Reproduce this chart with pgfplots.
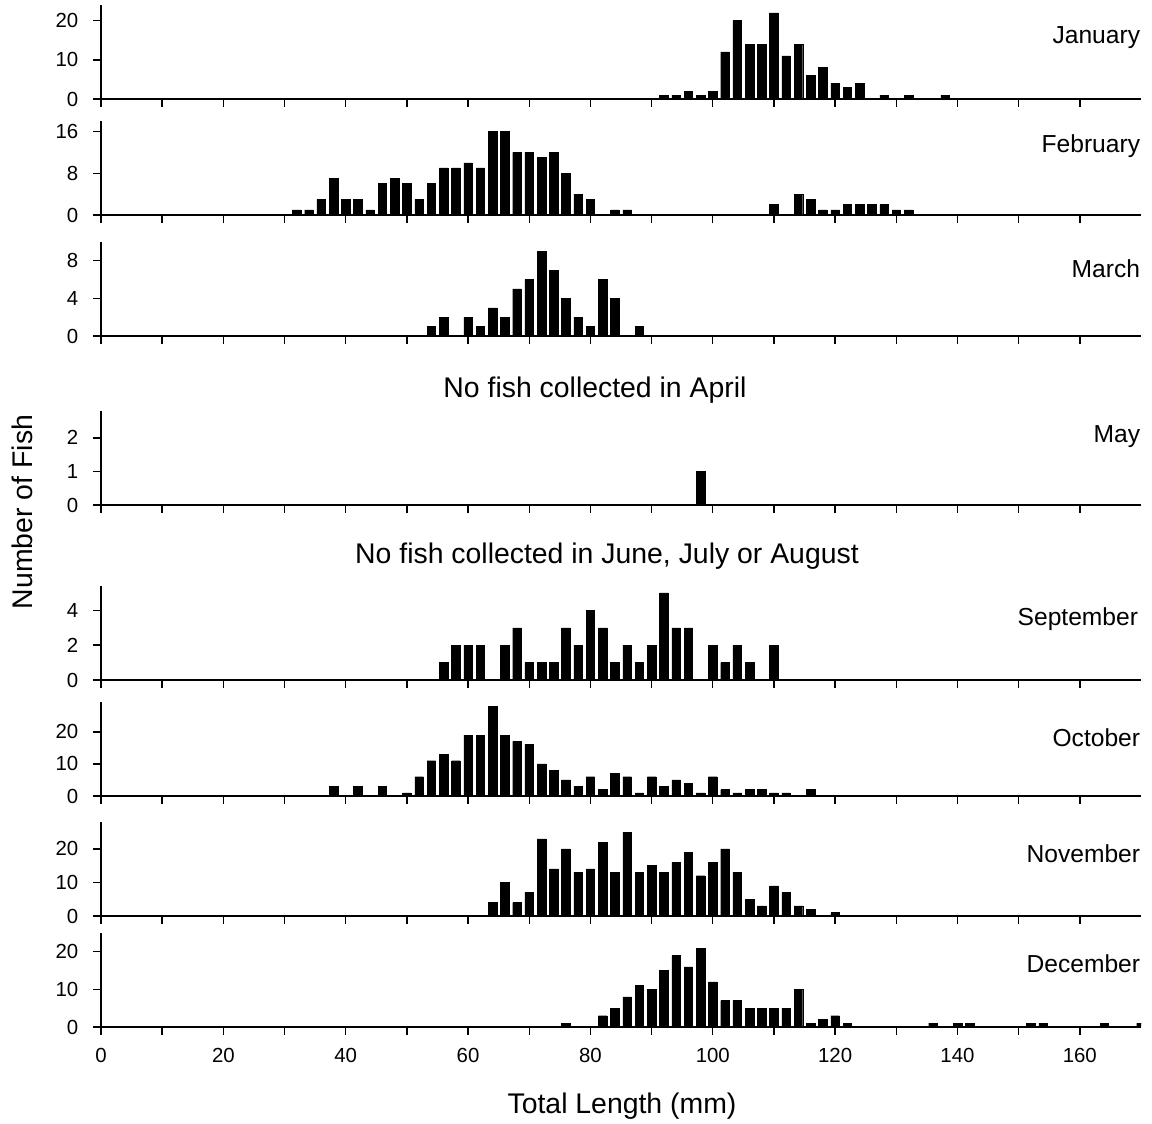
\documentclass[border=0pt]{standalone}
\usepackage{fontspec}
\setmainfont{Liberation Sans}
\usepackage{pgfplots}
\pgfplotsset{compat=1.18}
\pgfplotsset{
  panel/.style={
    scale only axis, width=520pt, height=47pt,
    xmin=0, xmax=170, ymin=0,
    axis x line=bottom, axis y line=left,
    axis line style={-, line width=0.8pt},
    xtick={0,20,...,160}, minor xtick={10,30,...,150},
    xticklabels={},
    tick align=outside, major tick length=3.8pt, minor tick length=3.8pt,
    every tick/.style={black, line width=0.7pt},
    ybar, bar width=1.4,
    ticklabel style={font=\fontsize{10.2}{12}\selectfont},
    yticklabel style={xshift=-4pt},
    xticklabel style={yshift=-3.5pt},
    /pgf/number format/assume math mode=true,
    anchor=south west,
  },
}
\tikzset{
  bars/.style={fill=black, draw=black, line width=0.2pt},
  mon/.style={anchor=east, inner sep=0pt, font=\fontsize{12.3}{14}\selectfont},
  big/.style={font=\fontsize{14.2}{16}\selectfont},
}
\begin{document}
\begin{tikzpicture}
\useasboundingbox (0,0) rectangle (576pt,562pt);
% January
\begin{axis}[panel, at={(50.5pt,512.5pt)}, ymax=24, ytick={0,10,20}]
\addplot[bars] coordinates {(92,1)(94,1)(96,2)(98,1)(100,2)(102,12)(104,20)(106,14)(108,14)(110,22)(112,11)(114,14)(116,6)(118,8)(120,4)(122,3)(124,4)(128,1)(132,1)(138,1)};
\node[mon] at (rel axis cs:0.9995,0.65) {January};
\end{axis}
% February
\begin{axis}[panel, at={(50.5pt,454.5pt)}, ymax=18, ytick={0,8,16}]
\addplot[bars] coordinates {(32,1)(34,1)(36,3)(38,7)(40,3)(42,3)(44,1)(46,6)(48,7)(50,6)(52,3)(54,6)(56,9)(58,9)(60,10)(62,9)(64,16)(66,16)(68,12)(70,12)(72,11)(74,12)(76,8)(78,4)(80,3)(84,1)(86,1)(110,2)(114,4)(116,3)(118,1)(120,1)(122,2)(124,2)(126,2)(128,2)(130,1)(132,1)};
\node[mon] at (rel axis cs:0.9995,0.73) {February};
\end{axis}
% March
\begin{axis}[panel, at={(50.5pt,394pt)}, ymax=10, ytick={0,4,8}]
\addplot[bars] coordinates {(54,1)(56,2)(60,2)(62,1)(64,3)(66,2)(68,5)(70,6)(72,9)(74,7)(76,4)(78,2)(80,1)(82,6)(84,4)(88,1)};
\node[mon] at (rel axis cs:0.9995,0.72) {March};
\end{axis}
\node[big] at (297.5pt,367pt) {No fish collected in April};
% May
\begin{axis}[panel, at={(50.5pt,309.5pt)}, ymax=2.8, ytick={0,1,2}]
\addplot[bars] coordinates {(98,1)};
\node[mon] at (rel axis cs:0.9995,0.73) {May};
\end{axis}
\node[big] at (303.5pt,284pt) {No fish collected in June, July or August};
% September
\begin{axis}[panel, at={(50.5pt,222pt)}, ymax=5.4, ytick={0,2,4}]
\addplot[bars] coordinates {(56,1)(58,2)(60,2)(62,2)(66,2)(68,3)(70,1)(72,1)(74,1)(76,3)(78,2)(80,4)(82,3)(84,1)(86,2)(88,1)(90,2)(92,5)(94,3)(96,3)(100,2)(102,1)(104,2)(106,1)(110,2)};
\node[mon] at (rel axis cs:0.9975,0.65) {September};
\end{axis}
% October
\begin{axis}[panel, at={(50.5pt,164pt)}, ymax=29.3, ytick={0,10,20}]
\addplot[bars] coordinates {(38,3)(42,3)(46,3)(50,1)(52,6)(54,11)(56,13)(58,11)(60,19)(62,19)(64,28)(66,19)(68,17)(70,16)(72,10)(74,8)(76,5)(78,3)(80,6)(82,2)(84,7)(86,6)(88,1)(90,6)(92,3)(94,5)(96,4)(98,1)(100,6)(102,2)(104,1)(106,2)(108,2)(110,1)(112,1)(116,2)};
\node[mon] at (rel axis cs:0.9995,0.62) {October};
\end{axis}
% November
\begin{axis}[panel, at={(50.5pt,104pt)}, ymax=28, ytick={0,10,20}]
\addplot[bars] coordinates {(64,4)(66,10)(68,4)(70,7)(72,23)(74,14)(76,20)(78,13)(80,14)(82,22)(84,13)(86,25)(88,13)(90,15)(92,13)(94,16)(96,19)(98,12)(100,16)(102,20)(104,13)(106,5)(108,3)(110,9)(112,7)(114,3)(116,2)(120,1)};
\node[mon] at (rel axis cs:0.9995,0.66) {November};
\end{axis}
% December
\begin{axis}[panel, at={(50.5pt,48.5pt)}, ymax=25, ytick={0,10,20},
  xticklabels={0,20,40,60,80,100,120,140,160}]
\addplot[bars] coordinates {(76,1)(82,3)(84,5)(86,8)(88,11)(90,10)(92,15)(94,19)(96,16)(98,21)(100,12)(102,7)(104,7)(106,5)(108,5)(110,5)(112,5)(114,10)(116,1)(118,2)(120,3)(122,1)(136,1)(140,1)(142,1)(152,1)(154,1)(164,1)(170,1)};
\node[mon] at (rel axis cs:0.9995,0.67) {December};
\end{axis}
\node[big] at (311pt,9pt) {Total Length (mm)};
\node[big, rotate=90] at (11pt,306pt) {Number of Fish};
\end{tikzpicture}
\end{document}
